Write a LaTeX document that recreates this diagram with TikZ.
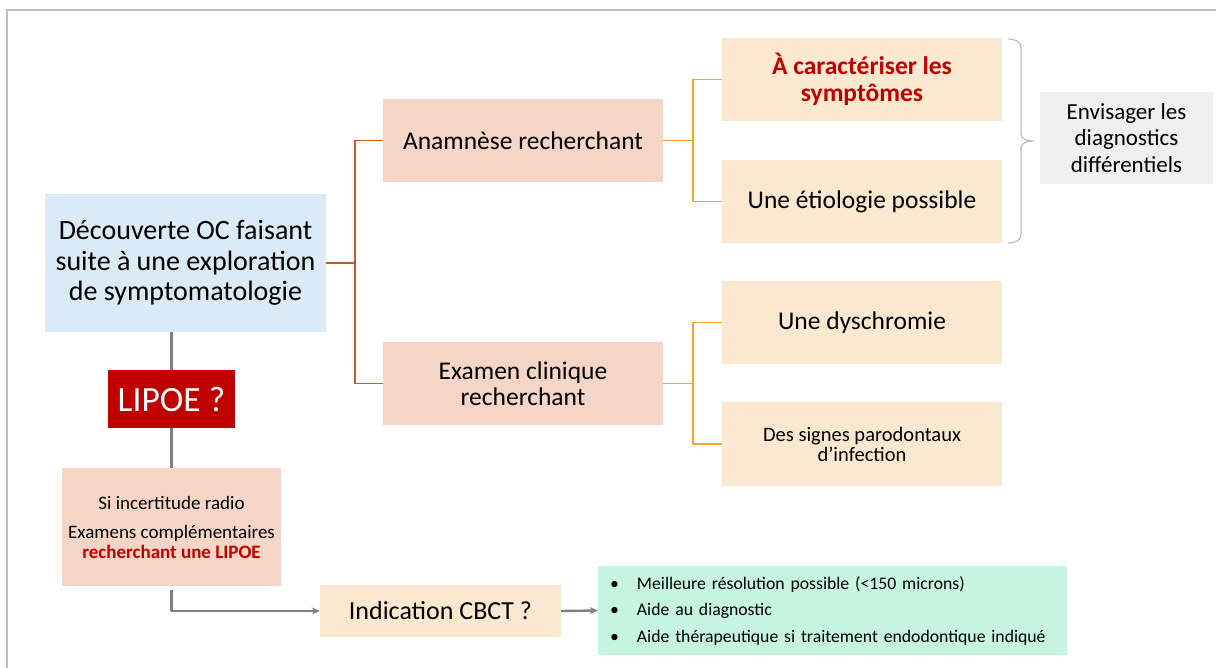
\documentclass[tikz,border=0pt]{standalone}
\usepackage{fontspec}
\setmainfont{Carlito}
\usetikzlibrary{arrows.meta}
\definecolor{bleu}{RGB}{218,234,246}
\definecolor{peche}{RGB}{245,214,198}
\definecolor{creme}{RGB}{251,232,208}
\definecolor{grisclair}{RGB}{239,239,239}
\definecolor{rouge}{RGB}{192,0,0}
\definecolor{menthe}{RGB}{198,243,226}
\definecolor{orangefil}{RGB}{244,166,50}
\definecolor{brique}{RGB}{197,88,36}
\definecolor{grisfil}{RGB}{128,128,128}
\definecolor{cadre}{RGB}{190,190,190}
\newcommand\setfs[2]{\fontsize{#1}{#2}\selectfont}
\begin{document}
\begin{tikzpicture}[x=1pt,y=-1pt,>={Stealth[length=8pt,width=7pt]},line join=round,
	boite/.style={inner sep=0pt,minimum width=280pt,minimum height=83pt,align=center,font={\setfs{25.5}{26.5}}},
	lien brique/.style={draw=brique,line width=1.9pt},
	lien orange/.style={draw=orangefil,line width=1.9pt},
	lien gris/.style={draw=grisfil,line width=2.4pt}]
	\useasboundingbox (0,0) rectangle (1216,668);
	% cadre
	\draw[cadre,line width=1.5pt] (1216,10) -- (7,10) -- (7,668);
	% boites
	\node[boite,fill=bleu,minimum width=281pt,minimum height=138pt,font={\setfs{28}{30.5}}] (decouverte) at (185.5,263) {Découverte OC faisant\\suite à une exploration\\de symptomatologie};
	\node[boite,fill=peche] (anamnese) at (523,140.5) {Anamnèse recherchant};
	\node[boite,fill=peche] (examen) at (523,383.5) {Examen clinique\\recherchant};
	\node[boite,fill=creme,text=rouge,font={\setfs{25.5}{27}\bfseries}] (caracteriser) at (862,79.5) {À caractériser les\\symptômes};
	\node[boite,fill=creme] (etiologie) at (862,201.5) {Une étiologie possible};
	\node[boite,fill=creme] (dyschromie) at (862,322.5) {Une dyschromie};
	\node[boite,fill=creme,minimum height=84pt,font={\setfs{20.5}{20}}] (signes) at (862,444) {Des signes parodontaux\\d’infection};
	\node[boite,fill=grisclair,minimum width=173pt,minimum height=92pt,font={\setfs{23}{26.5}}] (envisager) at (1126.5,138) {Envisager les\\diagnostics\\différentiels};
	\node[boite,fill=rouge,text=white,minimum width=127pt,minimum height=58pt,font={\setfs{35.5}{36}}] (lipoe) at (171.5,399) {LIPOE ?};
	\node[boite,fill=peche,minimum width=219pt,minimum height=118pt,font={\setfs{19}{20}}] (incertitude) at (171.5,527) {Si incertitude radio\\[9pt]Examens complémentaires\\{\color{rouge}\bfseries recherchant une LIPOE}};
	\node[boite,fill=creme,minimum width=241pt,minimum height=52pt,font={\setfs{26}{27}}] (cbct) at (440.5,611) {Indication CBCT ?};
	\node[boite,fill=menthe,minimum width=469pt,minimum height=89pt,text width=445pt,align=left,font={\setfs{17.7}{26.5}}] (apports) at (832.5,610.5) {\makebox[27pt][l]{\textbullet}Meilleure résolution possible (<150 microns)\\\makebox[27pt][l]{\textbullet}Aide au diagnostic\\\makebox[27pt][l]{\textbullet}Aide thérapeutique si traitement endodontique indiqué};
	% liaisons
	\draw[lien brique] (decouverte.east) -- ++(29,0) coordinate (j1);
	\draw[lien brique] (anamnese.west) -| (j1) |- (examen.west);
	\draw[lien orange] (anamnese.east) -- ++(30,0) coordinate (j2);
	\draw[lien orange] (caracteriser.west) -| (j2) |- (etiologie.west);
	\draw[lien orange] (examen.east) -- ++(30,0) coordinate (j3);
	\draw[lien orange] (dyschromie.west) -| (j3) |- (signes.west);
	\draw[lien gris] (lipoe.north |- decouverte.south) -- (lipoe.north);
	\draw[lien gris] (lipoe.south) -- (incertitude.north);
	\draw[lien gris,->,shorten <=4pt] (incertitude.south) |- (cbct.west);
	\draw[lien gris,->] (cbct.east) -- (apports.west);
	% accolade
	\path
	(1008,39) coordinate (A)
	(1021,47) coordinate (B)
	(1021,134) coordinate (C)
	(1034,141) coordinate (M)
	(1021,148) coordinate (D)
	(1021,235) coordinate (E)
	(1008,243) coordinate (F)
	;
	\draw[cadre,line width=1.2pt] (A) to[out=0,in=90] (B) -- (C) to[out=-90,in=180] (M) to[out=180,in=90] (D) -- (E) to[out=-90,in=0] (F);
\end{tikzpicture}
\end{document}
